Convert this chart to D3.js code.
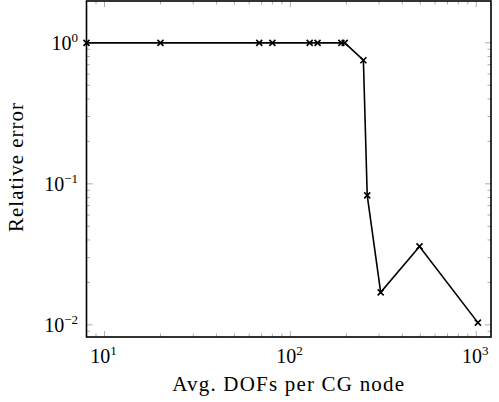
<!DOCTYPE html>
<html lang="en">
<head>
<meta charset="UTF-8">
<title>Relative error vs DOFs</title>
<style>
  body { margin: 0; background: #fff; }
  svg text { font-family: "Liberation Serif", "DejaVu Serif", serif; fill: #000; }
</style>
</head>
<body>
<div id="chart"></div>
<script src="https://cdn.jsdelivr.net/npm/d3@7/dist/d3.min.js"></script>
<script>
// data
var dofs = [8, 20, 68, 80, 127, 140, 188, 196, 247, 259, 306, 495, 1020];
var relErr = [1, 1, 1, 1, 1, 1, 1, 1, 0.753, 0.0828, 0.0170, 0.0360, 0.01037];
var xTickExp = [1, 2, 3];
var yTickExp = [0, -1, -2];
var xDomain = [8, 1200];
var yDomain = [0.0082, 1.98];

var width = 499, height = 402;
var pL = 86.5, pR = 491, pT = 1, pB = 337;

var svg = d3.select('#chart').append('svg')
  .attr('width', width).attr('height', height);

var x = d3.scaleLog().domain(xDomain).range([pL, pR]);
var y = d3.scaleLog().domain(yDomain).range([pB, pT]);

// minor + major ticks, drawn inward on all sides
var xMinor = [], yMinor = [];
for (var e = 0; e <= 3; e++) for (var m = 2; m <= 9; m++) {
  var v = m * Math.pow(10, e);
  if (v > xDomain[0] && v < xDomain[1]) xMinor.push(v);
}
for (var e = -3; e <= 0; e++) for (var m = 2; m <= 9; m++) {
  var v = m * Math.pow(10, e);
  if (v > yDomain[0] && v < yDomain[1]) yMinor.push(v);
}
var xMajor = xTickExp.map(function (p) { return Math.pow(10, p); });
var yMajor = yTickExp.map(function (p) { return Math.pow(10, p); });

var ticks = svg.append('g').attr('stroke', '#999').attr('stroke-width', 0.8);
function xTicks(vals, len) {
  vals.forEach(function (v) {
    ticks.append('line').attr('x1', x(v)).attr('x2', x(v)).attr('y1', pB).attr('y2', pB - len);
    ticks.append('line').attr('x1', x(v)).attr('x2', x(v)).attr('y1', pT).attr('y2', pT + len);
  });
}
function yTicks(vals, len) {
  vals.forEach(function (v) {
    ticks.append('line').attr('y1', y(v)).attr('y2', y(v)).attr('x1', pL).attr('x2', pL + len);
    ticks.append('line').attr('y1', y(v)).attr('y2', y(v)).attr('x1', pR).attr('x2', pR - len);
  });
}
xTicks(xMinor, 3.5); xTicks(xMajor, 6);
yTicks(yMinor, 3.5); yTicks(yMajor, 6);

// the series
svg.append('path')
  .datum(dofs.map(function (d, i) { return [d, relErr[i]]; }))
  .attr('fill', 'none').attr('stroke', '#000').attr('stroke-width', 1.6)
  .attr('d', d3.line().x(function (d) { return x(d[0]); }).y(function (d) { return y(d[1]); }));

var s = 3;
var marks = svg.append('g').attr('stroke', '#000').attr('stroke-width', 1.6);
dofs.forEach(function (d, i) {
  var cx = x(d), cy = y(relErr[i]);
  marks.append('path').attr('d', 'M' + (cx - s) + ',' + (cy - s) + 'L' + (cx + s) + ',' + (cy + s) +
    'M' + (cx - s) + ',' + (cy + s) + 'L' + (cx + s) + ',' + (cy - s));
});

// frame
svg.append('rect').attr('x', pL).attr('y', pT)
  .attr('width', pR - pL).attr('height', pB - pT)
  .attr('fill', 'none').attr('stroke', '#000').attr('stroke-width', 1.6);

// tick labels with superscripts
function powLabel(sel, p) {
  sel.append('tspan').text('10');
  sel.append('tspan').attr('dy', -8).attr('font-size', 13).text(p < 0 ? '\u2212' + (-p) : p);
}
xTickExp.forEach(function (p) {
  var t = svg.append('text').attr('x', x(Math.pow(10, p)) - 1).attr('y', 363)
    .attr('text-anchor', 'middle').attr('font-size', 20);
  powLabel(t, p);
});
yTickExp.forEach(function (p) {
  var t = svg.append('text').attr('x', 78).attr('y', y(Math.pow(10, p)) + 7)
    .attr('text-anchor', 'end').attr('font-size', 20);
  powLabel(t, p);
});

// axis titles
svg.append('text').attr('x', (pL + pR) / 2).attr('y', 391)
  .attr('text-anchor', 'middle').attr('font-size', 21).attr('letter-spacing', 1.2)
  .text('Avg. DOFs per CG node');
svg.append('text').attr('transform', 'translate(23,' + ((pT + pB) / 2 - 2) + ') rotate(-90)')
  .attr('text-anchor', 'middle').attr('font-size', 21).attr('letter-spacing', 1)
  .text('Relative error');
</script>
</body>
</html>
